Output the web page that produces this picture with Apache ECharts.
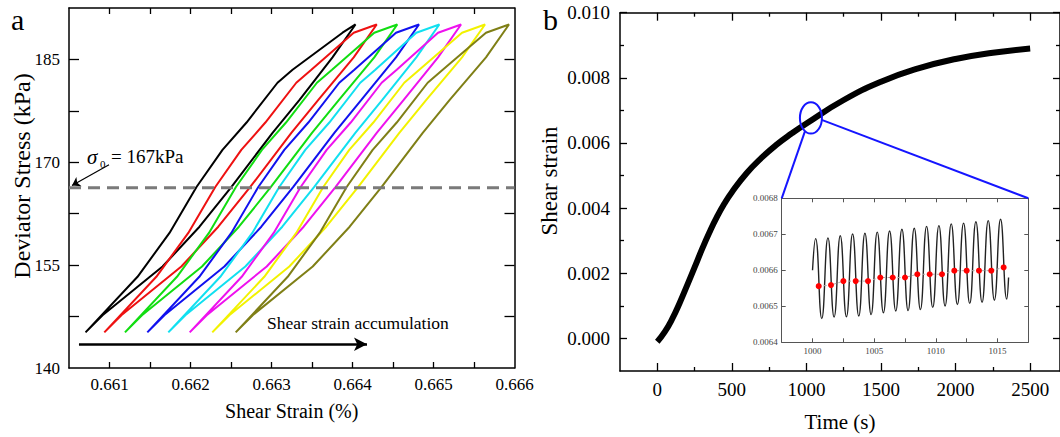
<!DOCTYPE html>
<html>
<head>
<meta charset="utf-8">
<script src="https://cdn.jsdelivr.net/npm/echarts/dist/echarts.min.js"></script>
<style>
html,body{margin:0;padding:0;background:#fff;}
#c{width:1060px;height:437px;}
</style>
</head>
<body>
<div id="c"></div>
<script>
// ---------- Panel a : hysteresis loops ----------
const stressLevels = [145.2,153.3,159.7,166.4,171.8,175.8,181.6,183.5,188.9,190.1,185.3,179.1,174.3,166.4,160.6,154.8,147.7,145.2];
const loopBlack   = [0.660704,0.661346,0.661741,0.662074,0.662395,0.662692,0.663074,0.663260,0.663877,0.664037,0.663753,0.663346,0.663013,0.662506,0.662111,0.661655,0.660914,0.660704];
const loopRed     = [0.660936,0.661578,0.661973,0.662306,0.662627,0.662924,0.663306,0.663492,0.664015,0.664299,0.664015,0.663578,0.663245,0.662738,0.662343,0.661887,0.661146,0.660936];
const loopGreen   = [0.661191,0.661833,0.662228,0.662561,0.662882,0.663179,0.663561,0.663747,0.664269,0.664553,0.664269,0.663833,0.663500,0.662993,0.662598,0.662142,0.661401,0.661191];
const loopBlue    = [0.661467,0.662109,0.662504,0.662837,0.663158,0.663455,0.663837,0.664023,0.664537,0.664821,0.664537,0.664109,0.663776,0.663269,0.662874,0.662418,0.661677,0.661467];
const loopCyan    = [0.661726,0.662368,0.662763,0.663096,0.663417,0.663714,0.664096,0.664282,0.664788,0.665072,0.664788,0.664368,0.664035,0.663528,0.663133,0.662677,0.661936,0.661726];
const loopMagenta = [0.661990,0.662632,0.663027,0.663360,0.663681,0.663978,0.664360,0.664546,0.665056,0.665340,0.665056,0.664632,0.664299,0.663792,0.663397,0.662941,0.662200,0.661990];
const loopYellow  = [0.662269,0.662911,0.663306,0.663639,0.663960,0.664257,0.664639,0.664825,0.665352,0.665636,0.665352,0.664911,0.664578,0.664071,0.663676,0.663220,0.662479,0.662269];
const loopOlive   = [0.662558,0.663200,0.663595,0.663928,0.664249,0.664546,0.664928,0.665114,0.665648,0.665932,0.665648,0.665200,0.664867,0.664360,0.663965,0.663509,0.662768,0.662558];
const loopColors  = ['#000000','#ee1111','#11dd11','#1111ee','#11e0f0','#ee11ee','#f2f200','#7f7f16'];
const sigma0Level = 166.3;
const aStrainTicks  = [0.661,0.6615,0.662,0.6625,0.663,0.6635,0.664,0.6645,0.665,0.6655];
const aStrainLabels = [0.661,0.662,0.663,0.664,0.665,0.666];
const aStressTicks  = [147.5,155,162.5,170,177.5,185];
const aStressLabels = [140,155,170,185];

// ---------- Panel b : shear strain vs time ----------
const timeS   = [0,50,100,150,200,250,300,350,400,450,500,600,700,800,900,1000,1250,1500,1750,2000,2250,2500];
const strainS = [-0.0001,0.0002,0.0006,0.00109,0.00163,0.00218,0.00274,0.00326,0.00373,0.00414,0.00449,0.00508,0.00555,0.00595,0.00629,0.0066,0.00732,0.00788,0.00829,0.00858,0.00877,0.0089];
const bTimeLabels   = [0,500,1000,1500,2000,2500];
const bTimeMinor    = [250,750,1250,1750,2250];
const bStrainLabels = [0,0.002,0.004,0.006,0.008,0.010];
const bStrainMinor  = [0.001,0.003,0.005,0.007,0.009];
const zoomFocus = [1030, 0.00677];

// ---------- Inset ----------
const insetStart  = [1000, 0.0066];
const insetEnd    = [1015.9, 0.00658];
const peakTimes   = [1000.25,1001.25,1002.25,1003.25,1004.25,1005.25,1006.25,1007.25,1008.25,1009.25,1010.25,1011.25,1012.25,1013.25,1014.25,1015.25];
const peakVals    = [0.006688,0.006690,0.006696,0.006701,0.006703,0.006706,0.006709,0.006714,0.006717,0.006722,0.006724,0.006729,0.006731,0.006735,0.006738,0.006742];
const troughTimes = [1000.75,1001.75,1002.75,1003.75,1004.75,1005.75,1006.75,1007.75,1008.75,1009.75,1010.75,1011.75,1012.75,1013.75,1014.75,1015.75];
const troughVals  = [0.006466,0.006470,0.006471,0.006473,0.006477,0.006482,0.006487,0.006488,0.006491,0.006497,0.006501,0.006505,0.006508,0.006511,0.006517,0.006520];
const meanTimes   = [1000.5,1001.5,1002.5,1003.5,1004.5,1005.5,1006.5,1007.5,1008.5,1009.5,1010.5,1011.5,1012.5,1013.5,1014.5,1015.5];
const meanVals    = [0.006556,0.006559,0.006570,0.006570,0.006570,0.006580,0.006580,0.006580,0.006589,0.006589,0.006589,0.006599,0.006599,0.006599,0.006599,0.006608];
const insetTimeLabels = [1000,1005,1010,1015];
const insetTimeTicks  = [1000,1002.5,1005,1007.5,1010,1012.5,1015];
const insetStrainVals = [0.0065,0.0066,0.0067];
const insetStrainLabels = [0.0064,0.0065,0.0066,0.0067,0.0068];

// ---------- build ----------
const SERIF = '"Liberation Serif","Times New Roman",serif';
const chart = echarts.init(document.getElementById('c'), null, {renderer:'svg'});

function ax(o){
  return Object.assign({
    type:'value', splitLine:{show:false},
    axisLine:{show:true, onZero:false, lineStyle:{color:'#000', width:1.5}},
    axisTick:{show:false}, axisLabel:{show:false}
  }, o);
}
const noLine = {show:false, onZero:false};
const insetLine = {show:true, onZero:false, lineStyle:{color:'#555', width:1}};
function ticks(vals, len, col, w){ return {show:true, inside:true, length:len, customValues:vals, lineStyle:{color:col||'#000', width:w||1.3}}; }
function labels(vals, size, margin, fmt, col){
  return {show:true, customValues:vals, fontSize:size, fontFamily:SERIF, color:col||'#000', margin:margin, formatter:fmt, showMinLabel:true, showMaxLabel:true};
}

const loops = [loopBlack,loopRed,loopGreen,loopBlue,loopCyan,loopMagenta,loopYellow,loopOlive];
const series = [];
loops.forEach((lp,i)=>{
  series.push({type:'line', xAxisIndex:0, yAxisIndex:0, data: lp.map((x,k)=>[x, stressLevels[k]]),
    showSymbol:false, symbol:'none', lineStyle:{color:loopColors[i], width:2}, silent:true, z:3});
});
series.push({type:'line', xAxisIndex:0, yAxisIndex:0, data:[[0.6605,sigma0Level],[0.666,sigma0Level]],
  symbol:'none', lineStyle:{color:'#7a7a7a', width:3, type:[12,7]}, silent:true, z:4,
  markLine:{silent:true, animation:false, label:{show:false}, lineStyle:{color:'#000', type:'solid'},
    data:[
      [{coord:[0.660994,169.65], symbol:'none', lineStyle:{width:1.2,color:'#000'}},{coord:[0.660537,166.6], symbol:'arrow', symbolSize:8}],
      [{coord:[0.660623,143.46], symbol:'none', lineStyle:{width:2.5,color:'#000'}},{coord:[0.664179,143.46], symbol:'arrow', symbolSize:[10,13]}]
    ]}
});
series.push({type:'line', xAxisIndex:2, yAxisIndex:2, data: timeS.map((t,k)=>[t, strainS[k]]),
  symbol:'none', smooth:true, lineStyle:{color:'#000', width:6}, silent:true});
const wave = [insetStart];
for (let k=0;k<peakTimes.length;k++){ wave.push([peakTimes[k],peakVals[k]]); wave.push([troughTimes[k],troughVals[k]]); }
wave.push(insetEnd);
series.push({type:'line', xAxisIndex:6, yAxisIndex:6, data:wave, symbol:'none', smooth:0.5,
  lineStyle:{color:'#222', width:1.4}, silent:true, z:5});
series.push({type:'line', xAxisIndex:6, yAxisIndex:6, data: meanTimes.map((t,k)=>[t, meanVals[k]]),
  symbol:'circle', symbolSize:6, itemStyle:{color:'#ff0000'}, lineStyle:{color:'#aaa', width:1, type:[3,2]}, silent:true, z:6});

const f3 = v=>v.toFixed(3), f4 = v=>v.toFixed(4), f0 = v=>String(Math.round(v));

const option = {
  animation:false,
  backgroundColor:'#fff',
  textStyle:{fontFamily:SERIF},
  grid:[
    {left:69, top:8, width:445.5, height:360, show:false},
    {left:620, top:12.7, width:440.7, height:359.2, show:false},
    {left:781.7, top:198.3, width:246.6, height:144, show:true, backgroundColor:'#fff', borderWidth:0, z:4}
  ],
  xAxis:[
    ax({gridIndex:0, position:'bottom', min:0.6605, max:0.666, axisTick:ticks(aStrainTicks,6), axisLabel:labels(aStrainLabels,17,8,f3),
        name:'Shear Strain (%)', nameLocation:'middle', nameGap:33, nameTextStyle:{fontSize:20, fontFamily:SERIF, color:'#000'}}),
    ax({gridIndex:0, position:'top', min:0.6605, max:0.666, axisTick:ticks(aStrainTicks,6)}),
    ax({gridIndex:1, position:'bottom', min:-250, max:2700, axisTick:ticks(bTimeLabels,8), axisLabel:labels(bTimeLabels,19,9,f0),
        name:'Time (s)', nameLocation:'middle', nameGap:40, nameTextStyle:{fontSize:21, fontFamily:SERIF, color:'#000'}}),
    ax({gridIndex:1, position:'bottom', min:-250, max:2700, axisLine:noLine, axisTick:ticks(bTimeMinor,4)}),
    ax({gridIndex:1, position:'top', min:-250, max:2700, axisTick:ticks(bTimeLabels,8)}),
    ax({gridIndex:1, position:'top', min:-250, max:2700, axisLine:noLine, axisTick:ticks(bTimeMinor,4)}),
    ax({gridIndex:2, position:'bottom', min:997.5, max:1017.5, axisLine:insetLine,
        axisTick:ticks(insetTimeTicks,4,'#555',1), axisLabel:labels(insetTimeLabels,9,4,f0,'#444'), z:5}),
    ax({gridIndex:2, position:'top', min:997.5, max:1017.5, axisLine:insetLine, axisTick:ticks(insetTimeTicks,4,'#555',1), z:5})
  ],
  yAxis:[
    ax({gridIndex:0, position:'left', min:140, max:192.5, axisTick:ticks(aStressTicks,10), axisLabel:labels(aStressLabels,17,9,f0)}),
    ax({gridIndex:0, position:'right', min:140, max:192.5, axisTick:ticks(aStressTicks,10)}),
    ax({gridIndex:1, position:'left', min:-0.001, max:0.010, axisTick:ticks(bStrainLabels,7), axisLabel:labels(bStrainLabels,19,10,f3)}),
    ax({gridIndex:1, position:'left', min:-0.001, max:0.010, axisLine:noLine, axisTick:ticks(bStrainMinor,4)}),
    ax({gridIndex:1, position:'right', min:-0.001, max:0.010, axisTick:ticks(bStrainLabels,7)}),
    ax({gridIndex:1, position:'right', min:-0.001, max:0.010, axisLine:noLine, axisTick:ticks(bStrainMinor,4)}),
    ax({gridIndex:2, position:'left', min:0.0064, max:0.0068, axisLine:insetLine,
        axisTick:ticks(insetStrainVals,4,'#555',1), axisLabel:labels(insetStrainLabels,9,4,f4,'#444'), z:5}),
    ax({gridIndex:2, position:'right', min:0.0064, max:0.0068, axisLine:insetLine, axisTick:ticks(insetStrainVals,4,'#555',1), z:5})
  ],
  series: series
};
chart.setOption(option);

// annotations positioned through the axes
const fc = chart.convertToPixel({gridIndex:1}, zoomFocus);
const tl = chart.convertToPixel({gridIndex:2}, [997.5, 0.0068]);
const tr = chart.convertToPixel({gridIndex:2}, [1017.5, 0.0068]);
chart.setOption({
  graphic:[
    {type:'text', x:11, y:19, style:{text:'a', font:'30px '+SERIF, fill:'#000', textVerticalAlign:'middle'}},
    {type:'text', x:543, y:19, style:{text:'b', font:'30px '+SERIF, fill:'#000', textVerticalAlign:'middle'}},
    {type:'text', x:22, y:176, rotation:Math.PI/2, style:{text:'Deviator Stress (kPa)', font:'24px '+SERIF, fill:'#000', textAlign:'center', textVerticalAlign:'middle'}},
    {type:'text', x:549, y:181, rotation:Math.PI/2, style:{text:'Shear strain', font:'23px '+SERIF, fill:'#000', textAlign:'center', textVerticalAlign:'middle'}},
    {type:'text', x:87, y:157, style:{text:'σ', font:'italic 21px '+SERIF, fill:'#000', textVerticalAlign:'middle'}},
    {type:'text', x:100, y:164, style:{text:'0', font:'11px '+SERIF, fill:'#000', textVerticalAlign:'middle'}},
    {type:'text', x:111, y:156, style:{text:'= 167kPa', font:'19px '+SERIF, fill:'#000', textVerticalAlign:'middle'}},
    {type:'text', x:267, y:323, style:{text:'Shear strain accumulation', font:'17.5px '+SERIF, fill:'#000', textVerticalAlign:'middle'}},
    {type:'ellipse', shape:{cx:fc[0], cy:fc[1], rx:11, ry:15.7}, style:{fill:'none', stroke:'#1515ff', lineWidth:2}, z:10},
    {type:'line', shape:{x1:fc[0]-6, y1:fc[1]+13.4, x2:tl[0], y2:tl[1]}, style:{stroke:'#1515ff', lineWidth:2}, z:10},
    {type:'line', shape:{x1:fc[0]+10.8, y1:fc[1]+2, x2:tr[0], y2:tr[1]}, style:{stroke:'#1515ff', lineWidth:2}, z:10}
  ]
});
</script>
</body>
</html>
